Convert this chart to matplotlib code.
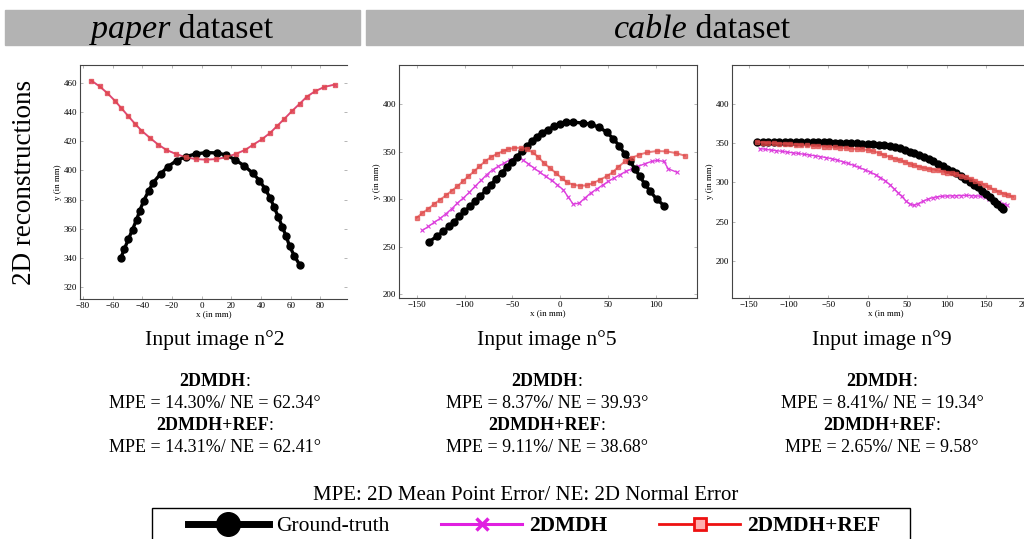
import matplotlib
matplotlib.use("Agg")
import matplotlib.pyplot as plt
from matplotlib.lines import Line2D
from matplotlib.patches import Rectangle

plt.rcParams['font.family'] = ['Liberation Serif', 'DejaVu Serif']

W, H = 1024, 539

# ---- paper dataset, input image n°2 ----
paper_gt_x = [-54.5, -52.1, -49.4, -46.6, -43.9, -41.7, -39.0, -35.8, -32.7, -27.7,
              -22.8, -16.9, -10.6, -3.8, 2.9, 10.1, 16.5, 22.8, 28.8, 34.3,
              39.0, 42.8, 46.2, 48.9, 51.6, 54.3, 57.0, 59.3, 62.4, 66.0]
paper_gt_y = [340.0, 346.2, 352.8, 359.5, 366.1, 372.4, 379.3, 385.7, 391.6, 397.5,
              402.5, 406.6, 409.4, 411.2, 412.1, 411.9, 410.5, 407.1, 403.0, 398.2,
              393.0, 387.3, 381.1, 374.7, 368.3, 361.5, 354.9, 348.1, 341.7, 335.5]
paper_mdh_x = [-74.4, -68.7, -63.8, -58.6, -54.1, -49.6, -45.1, -40.6, -34.9, -29.3,
               -23.7, -17.4, -10.6, -3.8, 2.9, 9.7, 16.5, 23.0, 29.3, 34.9,
               40.6, 46.2, 50.7, 55.7, 60.8, 66.0, 71.0, 76.6, 82.7, 89.7]
paper_mdh_y = [461.4, 457.3, 453.0, 447.7, 442.5, 437.2, 432.0, 427.2, 422.2, 417.6,
               413.9, 411.2, 408.9, 407.6, 407.3, 407.6, 408.9, 411.2, 413.9, 417.6,
               421.2, 425.6, 430.1, 435.1, 440.4, 445.4, 450.4, 454.1, 457.0, 458.6]
paper_ref_x = [-74.4, -68.7, -63.8, -58.6, -54.1, -49.6, -45.1, -40.6, -34.9, -29.3,
               -23.7, -17.4, -10.6, -3.8, 2.9, 9.7, 16.5, 23.0, 29.3, 34.9,
               40.6, 46.2, 50.7, 55.7, 60.8, 66.0, 71.0, 76.6, 82.7, 89.7]
paper_ref_y = [461.4, 457.3, 453.0, 447.7, 442.5, 437.2, 432.0, 427.2, 422.2, 417.6,
               413.9, 411.2, 408.9, 407.6, 407.3, 407.6, 408.9, 411.2, 413.9, 417.6,
               421.2, 425.6, 430.1, 435.1, 440.4, 445.4, 450.4, 454.1, 457.0, 458.6]

# ---- cable dataset, input image n°5 ----
cable5_gt_x = [-137.1, -129.1, -122.1, -115.9, -110.7, -105.4, -100.2, -94.3, -89.1, -83.8,
               -77.6, -72.4, -67.1, -61.2, -56.0, -50.8, -45.5, -40.3, -35.1, -29.9,
               -24.7, -19.4, -13.2, -6.2, -0.3, 6.0, 13.6, 23.4, 31.8, 40.8,
               48.5, 55.4, 61.7, 67.6, 72.8, 78.1, 83.3, 88.5, 93.7, 100.7, 108.7]
cable5_gt_y = [255.1, 260.7, 266.0, 271.2, 275.8, 281.8, 287.0, 292.3, 297.5, 302.8,
               309.1, 315.1, 321.1, 327.4, 333.3, 339.3, 344.2, 350.2, 355.4, 360.7,
               365.3, 369.5, 373.0, 376.5, 378.9, 380.7, 380.9, 380.0, 378.9, 375.4,
               370.5, 363.5, 356.1, 347.4, 340.4, 331.6, 323.9, 315.8, 308.8, 300.0, 293.0]
cable5_mdh_x = [-144.1, -137.8, -131.9, -125.6, -119.4, -113.4, -107.5, -101.3, -95.0, -89.1,
                -82.8, -76.9, -70.6, -64.7, -58.4, -52.5, -45.5, -39.3, -33.4, -27.4,
                -21.2, -15.3, -9.0, -3.1, 3.2, 8.4, 13.6, 19.9, 25.8, 31.8,
                38.0, 44.3, 50.2, 56.1, 62.4, 68.7, 74.6, 81.5, 88.5, 95.5,
                101.7, 108.4, 112.9, 121.6]
cable5_mdh_y = [267.0, 271.2, 275.4, 279.6, 284.6, 289.8, 295.8, 301.1, 307.0, 313.3,
                319.6, 325.6, 330.9, 334.4, 337.9, 341.4, 344.2, 341.4, 337.2, 332.6,
                328.1, 323.9, 319.6, 315.1, 309.8, 302.1, 294.7, 295.8, 301.1, 306.3,
                310.5, 314.7, 318.6, 322.1, 325.6, 329.1, 331.6, 334.4, 337.2, 339.6,
                340.7, 339.6, 331.9, 328.4]
cable5_ref_x = [-150.0, -144.1, -137.8, -131.9, -125.6, -119.4, -113.4, -107.5, -102.0, -96.0,
                -90.1, -84.5, -78.6, -72.7, -66.4, -60.2, -54.2, -48.0, -41.4, -35.1,
                -28.8, -22.9, -17.0, -10.7, -4.5, 1.5, 7.4, 13.6, 20.6, 27.6,
                34.5, 41.5, 48.5, 54.7, 60.7, 67.6, 74.6, 82.6, 90.9, 100.7,
                111.1, 120.9, 130.3]
cable5_ref_y = [280.4, 285.3, 289.8, 294.7, 299.3, 303.9, 308.8, 313.3, 318.6, 323.9,
                329.1, 334.4, 339.6, 343.9, 347.4, 350.2, 352.6, 353.7, 354.0, 352.6,
                349.1, 344.2, 337.9, 332.6, 327.4, 322.1, 317.5, 315.1, 314.0, 314.4,
                316.8, 320.4, 323.9, 328.1, 333.7, 339.6, 343.2, 346.7, 349.1, 350.5,
                350.2, 348.4, 345.6]

# ---- cable dataset, input image n°9 ----
cable9_gt_x = [-140, -133, -126, -119, -112, -105, -98, -91, -84, -77,
               -70, -63, -56, -49, -42, -35, -28, -21, -14, -7,
               0, 7, 14, 21, 28, 35, 41, 47, 53, 59,
               65, 71, 77, 83, 89, 95, 100, 106, 112, 118,
               123, 129, 134, 139, 145, 150, 155, 160, 164, 168, 171]
cable9_gt_y = [351.5, 351.5, 351.5, 351.5, 351.5, 351.5, 351.4, 351.3, 351.2, 351.1,
               351.0, 350.9, 350.8, 350.6, 350.4, 350.2, 350.0, 349.7, 349.4, 349.1,
               348.8, 348.5, 348.0, 347.2, 346.2, 344.8, 343.0, 341.2, 339.0, 336.8,
               334.5, 332.0, 329.3, 326.5, 323.5, 320.3, 317.5, 314.5, 311.3, 307.5,
               304.0, 300.5, 297.0, 293.5, 289.5, 285.5, 281.0, 276.5, 273.0, 269.0, 265.5]
cable9_mdh_x = [-137, -130, -123, -116, -109, -102, -95, -88, -81, -74,
                -67, -60, -53, -46, -39, -32, -25, -18, -11, -4,
                3, 10, 16, 22, 28, 33, 38, 43, 48, 53,
                58, 64, 70, 76, 82, 88, 94, 100, 106, 112,
                118, 124, 130, 136, 142, 148, 154, 160, 166, 172, 176]
cable9_mdh_y = [342.8, 342.0, 341.0, 340.2, 339.3, 338.4, 337.5, 336.6, 335.6, 334.7,
                333.7, 332.6, 331.4, 330.0, 328.3, 326.2, 324.0, 321.5, 318.8, 316.0,
                313.0, 309.5, 306.0, 302.0, 297.0, 292.0, 287.0, 282.0, 276.5, 272.5,
                270.8, 273.0, 276.0, 278.5, 280.5, 281.5, 282.3, 282.6, 282.8, 283.0,
                283.2, 283.3, 283.2, 282.8, 282.3, 281.0, 279.0, 276.5, 274.5, 272.5, 271.0]
cable9_ref_x = [-140, -133, -126, -119, -112, -105, -98, -91, -84, -77,
                -70, -63, -56, -49, -42, -35, -28, -21, -14, -7,
                0, 7, 14, 21, 28, 35, 41, 47, 53, 59,
                65, 71, 77, 83, 89, 95, 100, 106, 112, 118,
                124, 130, 136, 142, 148, 154, 160, 166, 172, 178, 184]
cable9_ref_y = [351.4, 350.5, 350.0, 349.6, 349.2, 349.0, 348.5, 348.0, 347.3, 346.8,
                346.3, 345.8, 345.3, 344.8, 344.2, 343.7, 343.2, 342.7, 342.2, 341.7,
                341.0, 339.5, 337.2, 334.7, 332.0, 329.8, 328.0, 325.8, 323.5, 321.5,
                319.8, 318.2, 317.0, 316.2, 315.0, 313.5, 312.3, 311.3, 310.3, 308.5,
                306.5, 304.5, 302.0, 299.5, 296.5, 293.5, 290.5, 288.0, 285.5, 283.5, 281.5]

titles = ["Input image n°2", "Input image n°5", "Input image n°9"]
mdh_scores = ["MPE = 14.30%/ NE = 62.34°", "MPE = 8.37%/ NE = 39.93°", "MPE = 8.41%/ NE = 19.34°"]
ref_scores = ["MPE = 14.31%/ NE = 62.41°", "MPE = 9.11%/ NE = 38.68°", "MPE = 2.65%/ NE = 9.58°"]

GT_C = 'black'
MDH_C = '#dd3fdd'
REF_C = '#e04848'


def fx(px):
    return px / W


def fy(py):
    return 1 - py / H


fig = plt.figure(figsize=(W / 100, H / 100), dpi=100)
renderer = fig.canvas.get_renderer()


def mixed_text(x, y, parts, size):
    # pieces of text with different styles, centred on (x, y) in pixels
    objs = []
    for s, kw in parts:
        objs.append(fig.text(0, 0, s, fontsize=size, ha='left', va='center', **kw))
    widths = [t.get_window_extent(renderer).width for t in objs]
    cur = x - sum(widths) / 2
    for t, w in zip(objs, widths):
        t.set_position((fx(cur), fy(y)))
        cur += w


# header bars
fig.patches.append(Rectangle((fx(5), fy(45)), fx(355), 35 / H, transform=fig.transFigure,
                             color='#b3b3b3', zorder=0))
fig.patches.append(Rectangle((fx(366), fy(45)), fx(660), 35 / H, transform=fig.transFigure,
                             color='#b3b3b3', zorder=0))
mixed_text(182, 30, [("paper", dict(style='italic')), (" dataset", {})], 24.5)
mixed_text(702, 30, [("cable", dict(style='italic')), (" dataset", {})], 24.5)

fig.text(fx(25), fy(182), "2D reconstructions", rotation=90, fontsize=19.5,
         ha='center', va='center')

# axes: [left px, right px, top px, bottom px], limits
axes_specs = [
    ((80, 347, 65, 299), (-82, 98), (312, 472), range(-80, 81, 20), range(320, 461, 20)),
    ((399, 697, 65, 298), (-168.5, 143), (196, 441), range(-150, 101, 50), range(200, 401, 50)),
    ((732, 1040, 65, 298), (-172, 218), (153, 449), range(-150, 201, 50), range(200, 401, 50)),
]
series = [
    (paper_gt_x, paper_gt_y, paper_mdh_x, paper_mdh_y, paper_ref_x, paper_ref_y),
    (cable5_gt_x, cable5_gt_y, cable5_mdh_x, cable5_mdh_y, cable5_ref_x, cable5_ref_y),
    (cable9_gt_x, cable9_gt_y, cable9_mdh_x, cable9_mdh_y, cable9_ref_x, cable9_ref_y),
]

for i, ((l, r, t, b), xl, yl, xt, yt) in enumerate(axes_specs):
    ax = fig.add_axes([fx(l), fy(b), (r - l) / W, (b - t) / H])
    gx, gy, mx, my, rx, ry = series[i]
    ax.plot(gx, gy, color=GT_C, lw=2.4, marker='o', ms=5, zorder=3)
    ax.plot(mx, my, color=MDH_C, lw=1.0, marker='x', ms=2.5, mew=0.8, zorder=2)
    ax.plot(rx, ry, color=REF_C, lw=1.4, marker='s', ms=2.6, alpha=0.7, zorder=4)
    ax.set_xlim(*xl)
    ax.set_ylim(*yl)
    ax.set_xticks(list(xt))
    ax.set_yticks(list(yt))
    ax.tick_params(direction='in', top=True, right=True, length=2, width=0.6,
                   color='#aaaaaa', labelsize=6.5, pad=2)
    ax.set_xlabel("x (in mm)", fontsize=6.5, labelpad=0)
    ax.set_ylabel("y (in mm)", fontsize=6.5, labelpad=1)
    for sp in ax.spines.values():
        sp.set_color('#444444')
        sp.set_linewidth(0.8)
    if i != 1:
        ax.spines['right'].set_visible(False)

    cx = [215, 547, 882][i]
    fig.text(fx(cx), fy(340), titles[i], fontsize=15.6, ha='center', va='center')
    mixed_text(cx, 381, [("2DMDH", dict(weight='bold')), (":", {})], 13)
    fig.text(fx(cx), fy(403), mdh_scores[i], fontsize=13, ha='center', va='center')
    mixed_text(cx, 426, [("2DMDH+REF", dict(weight='bold')), (":", {})], 13)
    fig.text(fx(cx), fy(447), ref_scores[i], fontsize=13, ha='center', va='center')

fig.text(fx(526), fy(495), "MPE: 2D Mean Point Error/ NE: 2D Normal Error", fontsize=15,
         ha='center', va='center')

# legend box (its lower edge runs past the bottom of the figure)
fig.patches.append(Rectangle((fx(152), fy(548)), fx(758), 40 / H, transform=fig.transFigure,
                             facecolor='white', edgecolor='black', lw=1.0, zorder=1))
handles = [
    Line2D([], [], color='black', lw=5, marker='o', ms=17),
    Line2D([], [], color='#e020e0', lw=2.2, marker='x', ms=8, mew=2.5),
    Line2D([], [], color='#ee1111', lw=2.0, marker='s', ms=9, mfc='#ffb0b0', mec='#ee1111', mew=2),
]
leg = fig.legend(handles, ["Ground-truth", "2DMDH", "2DMDH+REF"], ncol=3,
                 loc='center left', bbox_to_anchor=(fx(188), fy(526)), borderaxespad=0,
                 fontsize=15.5, handlelength=3.75, columnspacing=2.4, handletextpad=0.35,
                 borderpad=0, frameon=False)
for txt in leg.get_texts()[1:]:
    txt.set_fontweight('bold')

fig.savefig("out.png", dpi=100)
